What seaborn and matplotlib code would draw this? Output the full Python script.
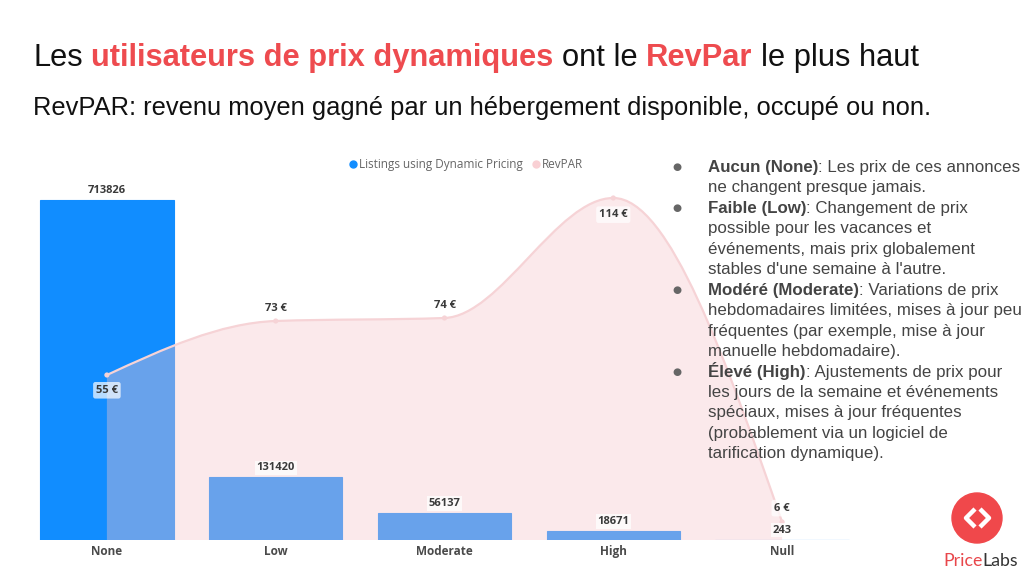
import numpy as np
import pandas as pd
import matplotlib
matplotlib.use("Agg")
import matplotlib.pyplot as plt
import seaborn as sns
from matplotlib.path import Path
from matplotlib.patches import PathPatch, Circle
from matplotlib.lines import Line2D
from matplotlib.transforms import IdentityTransform

# ---------------- data ----------------
categories = ["None", "Low", "Moderate", "High", "Null"]
listings = [713826, 131420, 56137, 18671, 243]
revpar = [55, 73, 74, 114, 6]
revpar_labels = ["55 €", "73 €", "74 €", "114 €", "6 €"]

# ---------------- style ----------------
sns.set_theme(style="white")
plt.rcParams["font.family"] = ["Liberation Sans", "DejaVu Sans"]

BLUE = "#118DFF"
PINK_FILL = "#F7C6CB"
PINK_LINE = "#F6D3D6"
RED = "#EE4B4F"
CHART_FONT = ["Open Sans", "DejaVu Sans"]

W, H = 1024, 576
fig = plt.figure(figsize=(W / 100, H / 100), dpi=100)
fig.patch.set_facecolor("white")

def px(x0, y0, x1, y1):
    return [x0 / W, 1 - y1 / H, (x1 - x0) / W, (y1 - y0) / H]

ax = fig.add_axes(px(22.5, 180, 866.5, 540))
df = pd.DataFrame({"cat": categories, "n": listings})
sns.barplot(data=df, x="cat", y="n", color=BLUE, saturation=1, width=0.79,
            ax=ax, edgecolor=BLUE, linewidth=0.8)
ax.set_ylim(0, 713826 * 360 / 340)
ax.set_xlim(-0.5, 4.5)
ax.set_xlabel("")
ax.set_ylabel("")
ax.set_yticks([])
for s in ax.spines.values():
    s.set_visible(False)
ax.tick_params(axis="x", length=0, pad=3.5)
for lab in ax.get_xticklabels():
    lab.set_fontweight("bold")
    lab.set_color("#4a4a4a")
    lab.set_fontsize(8.5)
    lab.set_family(CHART_FONT)

ax2 = ax.twinx()
ax2.set_ylim(0, 120)
ax2.set_yticks([])
for s in ax2.spines.values():
    s.set_visible(False)

# monotone cubic (d3 monotoneX) bezier path through the RevPAR points
xs = np.arange(len(revpar), dtype=float)
ys = np.array(revpar, dtype=float)
n = len(xs)
sl = np.diff(ys) / np.diff(xs)
t = np.zeros(n)
for i in range(1, n - 1):
    h0, h1 = xs[i] - xs[i - 1], xs[i + 1] - xs[i]
    s0, s1 = sl[i - 1], sl[i]
    p = (s0 * h1 + s1 * h0) / (h0 + h1)
    t[i] = (np.sign(s0) + np.sign(s1)) * min(abs(s0), abs(s1), 0.5 * abs(p))
t[0] = (3 * sl[0] - t[1]) / 2
t[-1] = (3 * sl[-1] - t[-2]) / 2
verts = [(xs[0], ys[0])]
codes = [Path.MOVETO]
for i in range(n - 1):
    h = xs[i + 1] - xs[i]
    verts += [(xs[i] + h / 3, ys[i] + t[i] * h / 3),
              (xs[i + 1] - h / 3, ys[i + 1] - t[i + 1] * h / 3),
              (xs[i + 1], ys[i + 1])]
    codes += [Path.CURVE4] * 3
line_path = Path(verts, codes)
area_path = Path(verts + [(xs[-1], 0), (xs[0], 0), (xs[0], ys[0])],
                 codes + [Path.LINETO, Path.LINETO, Path.CLOSEPOLY])
ax2.add_patch(PathPatch(area_path, facecolor=PINK_FILL, edgecolor="none", alpha=0.38, zorder=2))
ax2.add_patch(PathPatch(line_path, facecolor="none", edgecolor=PINK_LINE, lw=1.6, zorder=3))
sns.scatterplot(x=xs, y=ys, ax=ax2, color=PINK_LINE, s=14, edgecolor="none", zorder=4, legend=False)
ax2.set_xlim(-0.5, 4.5)

# bar labels
for i, v in enumerate(listings):
    ax2.annotate(f"{v}", xy=(i, v), xycoords=ax.transData, xytext=(0, 3),
                 textcoords="offset points", ha="center", va="bottom",
                 fontsize=8, fontweight="bold", color="#3a3a3a", family=CHART_FONT,
                 bbox=dict(boxstyle="square,pad=0.15", fc="white", ec="none", alpha=0.75),
                 zorder=6)
# revpar labels
offsets = [-11, 9, 9, -12, 10]
for i, (v, s) in enumerate(zip(revpar, revpar_labels)):
    off = offsets[i]
    ax2.annotate(s, xy=(i, v), xytext=(0, off), textcoords="offset points",
                 ha="center", va="center", fontsize=8, fontweight="bold",
                 color="#3a3a3a", family=CHART_FONT,
                 bbox=dict(boxstyle="round,pad=0.25,rounding_size=0.2", fc="white",
                           ec="none", alpha=0.7 if off < 0 or i == 4 else 0.0),
                 zorder=6)

handles = [Line2D([], [], marker="o", ls="none", color=BLUE, markersize=5),
           Line2D([], [], marker="o", ls="none", color="#F9D0D4", markersize=5)]
fig.legend(handles, ["Listings using Dynamic Pricing", "RevPAR"], loc="center",
           bbox_to_anchor=(465 / W, 1 - 165 / H), ncol=2, frameon=False,
           handletextpad=0.0, columnspacing=0.6, handlelength=1.0,
           prop=dict(family=CHART_FONT, size=8.5), labelcolor="#666666")

# ---------------- text ----------------
fig.canvas.draw()
renderer = fig.canvas.get_renderer()

def width_px(text, **kw):
    tt = fig.text(0, 0, text, **kw)
    w = tt.get_window_extent(renderer).width
    tt.remove()
    return w

def runs(x, y, parts, size, family=("Liberation Sans", "DejaVu Sans")):
    family = list(family)
    for text, weight, color in parts:
        kw = dict(fontsize=size, fontweight=weight, family=family)
        core = text.rstrip(" ")
        lead = len(core) - len(core.lstrip(" "))
        ntrail = len(text) - len(core)
        sp = width_px("a a", **kw) - width_px("aa", **kw)
        core2 = core.lstrip(" ")
        xx = x + lead * sp
        if core2:
            tt = fig.text(xx / W, 1 - y / H, core2, color=color, va="baseline", ha="left", zorder=10, **kw)
            xx += tt.get_window_extent(renderer).width
        x = xx + ntrail * sp
    return x

runs(33, 66, [("Les ", "normal", "#111111"),
              ("utilisateurs de prix dynamiques", "bold", RED),
              (" ont le ", "normal", "#111111"),
              ("RevPar", "bold", RED),
              (" le plus haut", "normal", "#111111")], 22.2)
runs(33, 115, [("RevPAR: revenu moyen gagné par un hébergement disponible, occupé ou non.", "normal", "#111111")], 18.4)

TXT = "#444444"
lines = [
    [("Aucun (None)", "bold", TXT), (": Les prix de ces annonces", "normal", TXT)],
    [("ne changent presque jamais.", "normal", TXT)],
    [("Faible (Low)", "bold", TXT), (": Changement de prix", "normal", TXT)],
    [("possible pour les vacances et", "normal", TXT)],
    [("événements, mais prix globalement", "normal", TXT)],
    [("stables d'une semaine à l'autre.", "normal", TXT)],
    [("Modéré (Moderate)", "bold", TXT), (": Variations de prix", "normal", TXT)],
    [("hebdomadaires limitées, mises à jour peu", "normal", TXT)],
    [("fréquentes (par exemple, mise à jour", "normal", TXT)],
    [("manuelle hebdomadaire).", "normal", TXT)],
    [("Élevé (High)", "bold", TXT), (": Ajustements de prix pour", "normal", TXT)],
    [("les jours de la semaine et événements", "normal", TXT)],
    [("spéciaux, mises à jour fréquentes", "normal", TXT)],
    [("(probablement via un logiciel de", "normal", TXT)],
    [("tarification dynamique).", "normal", TXT)],
]
bullets = {0, 2, 6, 10}
y0, dy = 172, 20.45
for k, parts in enumerate(lines):
    y = y0 + k * dy
    if k in bullets:
        fig.text(677 / W, 1 - (y - 5) / H, "●", fontsize=7.5, color="#666666",
                 ha="center", va="center", zorder=10, family=["DejaVu Sans"])
    runs(708, y, parts, 12.2)

# ---------------- logo ----------------
circ = Circle((977, H - 518), 25, transform=IdentityTransform(), color="#F0484B", zorder=10)
fig.add_artist(circ)
for pts in ([(975, 509), (966, 518), (975, 527)], [(980, 509), (989, 518), (980, 527)]):
    xs_, ys_ = zip(*[(p[0], H - p[1]) for p in pts])
    fig.add_artist(Line2D(xs_, ys_, transform=IdentityTransform(), color="white",
                          lw=3.2, solid_capstyle="butt", zorder=11))
LOGO_FONT = ("Lato", "DejaVu Sans")
wp = width_px("Price", fontsize=12.8, family=list(LOGO_FONT))
wl = width_px("Labs", fontsize=12.8, family=list(LOGO_FONT))
start = 981 - (wp + wl) / 2
runs(start, 566, [("Price", "normal", "#E8474B"), ("Labs", "normal", "#333333")], 12.8,
     family=LOGO_FONT)

fig.savefig("out.png", dpi=100)
